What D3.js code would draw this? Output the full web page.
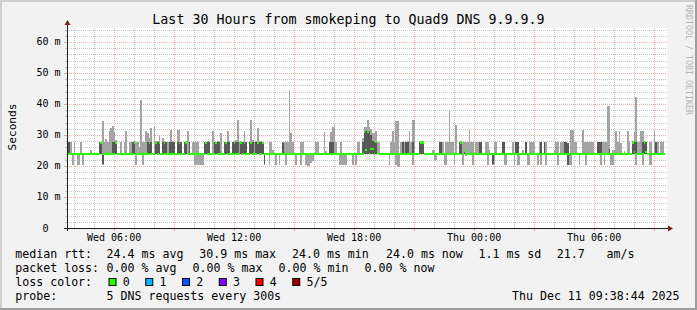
<!DOCTYPE html>
<html>
<head>
<meta charset="utf-8">
<script src="https://cdn.jsdelivr.net/npm/d3@7"></script>
<style>
html, body { margin: 0; padding: 0; background: #f2f2f2; }
svg { display: block; }
text { font-family: "DejaVu Sans Mono", monospace; fill: #000; }
</style>
</head>
<body>
<svg id="chart" width="697" height="310"></svg>
<script>
// ---- chart data ----
const title = "Last 30 Hours from smokeping to Quad9 DNS 9.9.9.9";
const endTime = new Date(2025, 11, 11, 9, 38, 44);
const spanHours = 30;
const stepSeconds = 300;
const lastStep = 358;          // last 5-minute step that has data
const baseRtt = 24.0;          // steady rtt (ms) for steps not listed below
const yMax = 64.5;
const yLabels = [0, 10, 20, 30, 40, 50, 60];

// [step, ping1, ping2, median, ping4, ping5] in ms (sorted pings of 5)
const pingRows = [
  [0, 24, 24, 24, 27.7, 27.7], [1, 24, 24, 24, 27.7, 27.7], [2, 24, 24, 24, 24, 27.7],
  [3, 20.4, 24, 24, 24, 24], [4, 24, 24, 24, 24, 27.7], [6, 20.4, 24, 24, 24, 24],
  [7, 20.4, 24, 24, 24, 24], [8, 24, 24, 24, 24, 27.7], [9, 20.4, 24, 24, 24, 24],
  [14, 24, 24, 24, 24, 25.3], [19, 24, 24, 24, 27.7, 27.7], [20, 24, 24, 27.5, 27.7, 27.7],
  [21, 20.3, 20.5, 24, 24, 34.4], [22, 24, 24, 24, 24, 27.7], [23, 24, 24, 24, 24, 28.8],
  [24, 24, 24, 24, 24, 27.7], [25, 24, 24, 24, 24, 31.2], [26, 24, 24, 24, 24, 32.3],
  [27, 24, 24, 24, 27.7, 33.0], [28, 24, 24, 24, 27.7, 31.0], [29, 24, 24, 27.5, 27.7, 28.5],
  [32, 24, 24, 24, 24, 27.7], [34, 24, 24, 24, 24, 27.7],
  [35, 24, 24, 24, 24, 31.2], [37, 24, 24, 24, 24, 27.7], [38, 24, 24, 24, 24, 27.7],
  [39, 24, 24, 24, 27.7, 27.7], [40, 24, 24, 27.5, 27.7, 28.0], [41, 20.3, 24, 24, 24, 27.7],
  [42, 24, 24, 24, 24, 27.7], [43, 24, 24, 24, 24, 26.0], [44, 24, 24, 24, 24, 41.3],
  [45, 20.3, 24, 24, 24, 27.7], [46, 24, 24, 24, 24, 27.7], [47, 24, 24, 24, 24, 31.2],
  [48, 24, 24, 24, 27.7, 30.5], [49, 24, 24, 27.5, 27.7, 29.0], [50, 24, 24, 24, 27.7, 32.3],
  [52, 24, 24, 24, 24, 33.0], [53, 24, 24, 27.5, 27.7, 28.0],
  [54, 24, 24, 24, 27.7, 28.0], [55, 24, 24, 27.5, 27.7, 30.0],
  [57, 24, 24, 24, 27.7, 29.0], [58, 24, 24, 27.5, 27.7, 28.0], [59, 24, 24, 24, 27.7, 27.7],
  [60, 24, 24, 24, 24, 27.7], [61, 24, 24, 24, 27.7, 27.7], [62, 24, 24, 24, 27.7, 31.5],
  [63, 24, 24, 24, 27.7, 28.0], [64, 24, 24, 24, 27.7, 27.7],
  [66, 24, 24, 24, 27.7, 31.5], [67, 24, 24, 27.5, 27.7, 31.5], [68, 24, 24, 24, 27.7, 27.7],
  [70, 24, 24, 24, 27.7, 27.7], [71, 24, 24, 27.5, 27.7, 28.0], [72, 24, 24, 24, 24, 31.2],
  [73, 24, 24, 24, 27.7, 27.7], [75, 24, 24, 24, 24, 27.7], [76, 20.4, 24, 24, 24, 27.7],
  [77, 20.2, 24, 24, 24, 27.7], [78, 20.2, 24, 24, 24, 27.7], [79, 20.2, 24, 24, 24, 24],
  [80, 20.2, 24, 24, 24, 24], [81, 20.2, 24, 24, 24, 24], [82, 24, 24, 24, 27.7, 27.7],
  [83, 24, 24, 27.5, 27.7, 27.7], [84, 24, 24, 24, 27.7, 28.0], [85, 24, 24, 24, 27.7, 27.7],
  [87, 24, 24, 24, 24, 31.2], [88, 24, 24, 24, 27.7, 27.7],
  [89, 24, 24, 27.5, 27.7, 27.7], [90, 24, 24, 24, 27.7, 28.0], [91, 24, 24, 24, 27.7, 27.7],
  [92, 24, 24, 24, 24, 30.6], [94, 24, 24, 24, 27.7, 27.7], [95, 24, 24, 27.5, 27.7, 27.7],
  [96, 24, 24, 24, 27.7, 31.2], [97, 24, 24, 24, 27.7, 28.0],
  [99, 24, 24, 24, 27.7, 27.7], [100, 24, 24, 27.5, 27.7, 28.0], [101, 24, 24, 24, 27.7, 28.5],
  [102, 24, 24, 24, 27.7, 34.8], [103, 24, 24, 24, 24, 27.7], [104, 24, 24, 27.5, 27.7, 28.0],
  [105, 24, 24, 24, 27.7, 27.7], [106, 24, 24, 27.5, 27.7, 31.2], [107, 24, 24, 24, 27.7, 27.7],
  [109, 24, 24, 24, 27.7, 27.7], [110, 24, 24, 27.5, 27.7, 34.8],
  [111, 24, 24, 24, 27.7, 28.5], [112, 24, 24, 24, 24, 27.7], [113, 24, 24, 24, 27.7, 28.0],
  [114, 24, 24, 27.5, 27.7, 32.3], [115, 24, 24, 24, 27.7, 27.7], [116, 24, 24, 24, 27.7, 28.0],
  [117, 24, 24, 27.5, 27.7, 27.7], [118, 20.2, 20.5, 24, 24, 24],
  [121, 20.3, 24, 24, 24, 27.7], [122, 24, 24, 24, 24, 27.7], [123, 24, 24, 24, 24, 25.3],
  [125, 20.3, 24, 24, 24, 24], [127, 20.3, 24, 24, 24, 24], [129, 24, 24, 24, 27.4, 27.7],
  [130, 24, 24, 24, 24, 27.7], [131, 20.3, 24, 24, 24, 27.7], [132, 24, 24, 24, 24, 27.7],
  [133, 24, 24, 24, 24, 44.6], [134, 24, 24, 24, 24, 30.6], [135, 24, 24, 24, 24, 27.7],
  [137, 20.3, 24, 24, 24, 24], [140, 20.3, 24, 24, 24, 27.7], [141, 24, 24, 24, 24, 27.7],
  [143, 20.3, 24, 24, 24, 24], [144, 20.0, 24, 24, 24, 24], [145, 20.0, 24, 24, 24, 24],
  [146, 21.0, 24, 24, 24, 24], [147, 21.5, 24, 24, 24, 24], [149, 24, 24, 24, 24, 27.7],
  [150, 24, 24, 24, 24, 27.7], [154, 24, 24, 24, 24, 31.0], [155, 24, 24, 24, 24, 24.8],
  [157, 24, 24, 24, 27.7, 27.7], [158, 24, 24, 24, 27.7, 31.0], [159, 24, 24, 24, 27.7, 32.5],
  [160, 24, 24, 24, 24, 33.3], [161, 24, 24, 24, 24, 27.7], [163, 20.3, 24, 24, 24, 24],
  [164, 20.3, 24, 24, 24, 27.7], [165, 20.2, 24, 24, 24, 24], [166, 20.2, 24, 24, 24, 24],
  [167, 20.3, 24, 24, 24, 24], [171, 20.3, 24, 24, 24, 24], [173, 20.3, 24, 24, 24, 24],
  [174, 24, 24, 24, 24, 27.7], [175, 24, 24, 24, 24, 27.7],
  [177, 24, 24, 24, 27.7, 29.0], [178, 24, 24, 31.0, 31.2, 32.7], [179, 24, 24, 25.2, 31.2, 32.7],
  [180, 24, 24, 31.0, 31.2, 34.8], [181, 24, 24, 24, 31.2, 32.7], [182, 24, 24, 25.5, 30.0, 32.0],
  [183, 24, 24, 25.5, 28.0, 30.6], [184, 24, 24, 24, 27.8, 30.6], [185, 24, 24, 27.8, 27.8, 31.2],
  [186, 24, 24, 24.3, 24.5, 27.7], [187, 24, 24, 24, 24, 27.7],
  [193, 20.3, 24, 24, 24, 24], [194, 24, 24, 24, 24, 27.7], [195, 24, 24, 24, 24, 31.2],
  [196, 24, 24, 24, 24, 27.7], [197, 20.3, 24, 24, 24, 34.6], [198, 19.6, 24, 24, 24, 34.6],
  [199, 19.6, 24, 24, 24, 24], [200, 24, 24, 24, 24, 27.7], [201, 24, 24, 24, 27.7, 27.7],
  [202, 24, 24, 24, 24, 27.7], [203, 24, 24, 24, 27.7, 27.7], [204, 24, 24, 24, 27.7, 28.0],
  [205, 24, 24, 24, 24, 31.2], [206, 24, 24, 24, 24, 27.7], [207, 20.3, 24, 24, 27.7, 34.8],
  [208, 24, 24, 24, 24, 34.8], [211, 24, 24, 24, 27.7, 27.7], [212, 24, 24, 27.6, 27.7, 27.7],
  [213, 24, 24, 27.6, 27.7, 28.0], [219, 24, 24, 24, 24, 25.0], [220, 22.0, 24, 24, 24, 25.0],
  [221, 22.0, 24, 24, 24, 24], [223, 24, 24, 24, 27.7, 27.7], [224, 24, 24, 24, 27.7, 27.7],
  [225, 24, 24, 24, 24, 27.7], [226, 20.3, 24, 24, 24, 24], [227, 20.3, 24, 24, 24, 27.7],
  [228, 24, 24, 24, 24, 27.7], [229, 24, 24, 24, 24, 37.8], [230, 24, 24, 24, 24, 27.7],
  [231, 24, 24, 24, 24, 27.7], [232, 20.3, 24, 24, 24, 24], [233, 24, 24, 24, 24, 33.3],
  [235, 24, 24, 24, 27.7, 27.7], [236, 24, 24, 27.6, 27.7, 27.7], [237, 20.3, 24, 24, 24, 27.7],
  [238, 24, 24, 25.0, 25.0, 27.7], [239, 23.3, 23.6, 24, 24, 27.7],
  [240, 24, 24, 24, 24, 27.7], [241, 24, 24, 24, 24, 31.5], [242, 24, 24, 24, 24, 27.7],
  [243, 20.3, 24, 24, 24, 27.7], [245, 24, 24, 24, 24, 27.7], [246, 24, 24, 24, 24, 27.7],
  [247, 24, 24, 24, 27.7, 27.7], [248, 24, 24, 24, 27.7, 27.7], [251, 24, 24, 24, 24, 27.7],
  [252, 20.3, 24, 24, 24, 27.7], [253, 24, 24, 24, 24, 25.0], [255, 20.3, 20.5, 24, 24, 24],
  [256, 20.3, 24, 24, 24, 27.7], [257, 24, 24, 24, 24, 27.7], [261, 24, 24, 24, 27.7, 27.7],
  [262, 20.3, 24, 24, 27.7, 27.7], [263, 20.3, 24, 24, 24, 24], [267, 24, 24, 24, 24, 27.7],
  [268, 20.3, 24, 24, 24, 24], [269, 24, 24, 24, 27.7, 27.7], [270, 20.3, 24, 24, 27.7, 27.7],
  [271, 20.3, 24, 24, 24, 24], [273, 24, 24, 24, 24, 25.0], [275, 24, 24, 24, 27.7, 27.7],
  [276, 20.3, 24, 24, 24, 24], [277, 20.3, 24, 24, 24, 27.7], [278, 24, 24, 24, 24, 27.7],
  [279, 24, 24, 24, 24, 27.7], [280, 24, 24, 24, 24, 27.7], [282, 20.3, 24, 24, 24, 24],
  [283, 24, 24, 24, 24, 27.7], [284, 20.3, 24, 24, 27.7, 27.7], [286, 24, 24, 24, 27.7, 27.7],
  [287, 20.3, 24, 24, 24, 27.7], [292, 24, 24, 24, 24, 25.0], [293, 24, 24, 24, 24, 27.7],
  [294, 20.3, 24, 24, 24, 27.7], [296, 24, 24, 24, 24, 27.7], [297, 24, 24, 24, 24, 27.7],
  [298, 24, 24, 24, 27.7, 27.7], [299, 24, 24, 24, 27.7, 27.7], [300, 20.3, 20.3, 24, 27.4, 27.4],
  [301, 20.3, 24, 24, 24, 24], [302, 20.3, 24, 24, 24, 31.5], [303, 24, 24, 24, 24, 31.5],
  [304, 24, 24, 24, 24, 27.7], [305, 24, 24, 24, 24, 27.7], [307, 20.3, 24, 24, 24, 24],
  [309, 24, 24, 24, 24, 31.5], [310, 24, 24, 24, 24, 27.7], [311, 20.3, 24, 24, 24, 27.7],
  [312, 24, 24, 24, 24, 27.7], [313, 24, 24, 24, 24, 27.7], [314, 24, 24, 24, 24, 27.7],
  [315, 24, 24, 24, 24, 27.7], [318, 24, 24, 24, 27.7, 27.7], [319, 24, 24, 24, 27.7, 27.7],
  [320, 20.3, 24, 24, 27.7, 27.7], [321, 24, 24, 24, 24, 27.7], [322, 20.3, 24, 24, 24, 27.7],
  [323, 24, 24, 24, 24, 27.7], [324, 24, 24, 24, 24, 39.2], [325, 24, 24, 24, 25.5, 39.2],
  [326, 20.3, 24, 24, 24, 24], [327, 20.3, 24, 24, 24, 25.0], [328, 24, 24, 24, 24, 25.0],
  [329, 24, 24, 24, 24, 31.2], [330, 24, 24, 24, 24, 27.7], [331, 24, 24, 24, 24, 31.2],
  [332, 24, 24, 24, 24, 27.5], [334, 24, 24, 24, 24, 24.8], [336, 24, 24, 24, 24, 31.2],
  [337, 24, 24, 24, 24, 27.7], [339, 24, 24, 27.6, 27.7, 27.7], [340, 24, 24, 24.6, 27.7, 31.0],
  [341, 20.3, 24, 24, 27.7, 42.3], [342, 24, 24, 24, 24, 27.7], [343, 24, 24, 24, 24, 27.7],
  [344, 24, 24, 24, 24, 31.2], [345, 20.3, 24, 24, 27.7, 31.2], [346, 24, 24, 27.6, 27.7, 27.7],
  [347, 24, 24, 24.6, 27.7, 27.7], [349, 20.3, 24, 24, 24, 27.7], [350, 20.3, 24, 24, 24, 27.7],
  [352, 24, 24, 24, 24, 31.2], [353, 24, 24, 24, 27.7, 27.7], [354, 24, 24, 24, 24, 27.7],
  [356, 24, 24, 24, 24, 27.7], [357, 24, 24, 24, 24, 27.7]
];

// legend values
const rttStats = { avg: 24.4, max: 30.9, min: 24.0, now: 24.0, sd: 1.1, amps: 21.7 };
const lossStats = { avg: 0.00, max: 0.00, min: 0.00, now: 0.00 };
const lossLabels = ["0", "1", "2", "3", "4", "5/5"];
const lossColors = ["#26ff00", "#00b8ff", "#0059ff", "#7e00ff", "#ff0000", "#a10000"];
const probeText = "5 DNS requests every 300s";
const stampText = "Thu Dec 11 09:38:44 2025";

// ---- drawing ----
const W = 697, H = 310;
const x0 = 67, x1 = 667, yTop = 28, yBot = 228;
const svg = d3.select("#chart");

const startTime = new Date(endTime.getTime() - spanHours * 3600e3);
const x = d3.scaleTime().domain([startTime, endTime]).range([x0, x1]);
const y = d3.scaleLinear().domain([0, yMax]).range([yBot, yTop]);
const stepTime = i => new Date(startTime.getTime() + i * stepSeconds * 1000);

// background + 3d shade
svg.append("rect").attr("width", W).attr("height", H).attr("fill", "#f2f2f2");
svg.append("rect").attr("x", 0).attr("y", 0).attr("width", W).attr("height", 2).attr("fill", "#cfcfcf");
svg.append("rect").attr("x", 0).attr("y", 0).attr("width", 2).attr("height", H).attr("fill", "#cfcfcf");
svg.append("rect").attr("x", 0).attr("y", H - 2).attr("width", W).attr("height", 2).attr("fill", "#9e9e9e");
svg.append("rect").attr("x", W - 2).attr("y", 0).attr("width", 2).attr("height", H).attr("fill", "#9e9e9e");

// canvas
svg.append("rect").attr("x", x0).attr("y", yTop).attr("width", x1 - x0).attr("height", yBot - yTop).attr("fill", "#fff");

const minorCol = "rgba(143,143,143,0.5)";
const majorCol = "rgba(222,80,74,0.45)";
const grid = svg.append("g").attr("shape-rendering", "crispEdges");

// horizontal grid: minor every 2 ms, major every 10 ms
d3.range(2, yMax, 2).forEach(v => {
  const major = v % 10 === 0;
  const yy = Math.round(y(v)) + 0.5;
  grid.append("line").attr("x1", x0).attr("x2", x1).attr("y1", yy).attr("y2", yy)
    .attr("stroke", major ? majorCol : minorCol).attr("stroke-dasharray", "1,1");
  grid.append("line").attr("x1", x0 - (major ? 3 : 2)).attr("x2", x0).attr("y1", yy).attr("y2", yy)
    .attr("stroke", major ? majorCol : minorCol);
});

// vertical grid: minor every hour, major every 3 hours
const hours = d3.timeHour.range(startTime, endTime);
hours.forEach(t => {
  const major = t.getHours() % 3 === 0;
  const xx = Math.round(x(t)) + 0.5;
  grid.append("line").attr("x1", xx).attr("x2", xx).attr("y1", yTop).attr("y2", yBot)
    .attr("stroke", major ? majorCol : minorCol).attr("stroke-dasharray", "1,1");
  grid.append("line").attr("x1", xx).attr("x2", xx).attr("y1", yBot).attr("y2", yBot + (major ? 3 : 2))
    .attr("stroke", major ? majorCol : minorCol);
});

// smoke + median
const rowByStep = new Map(pingRows.map(r => [r[0], r]));
const steps = d3.range(lastStep + 1).map(i => rowByStep.get(i) || [i, baseRtt, baseRtt, baseRtt, baseRtt, baseRtt]);

const smoke = svg.append("g").attr("shape-rendering", "crispEdges");
steps.forEach(r => {
  const xa = x(stepTime(r[0])), xb = x(stepTime(r[0] + 1));
  const band = (lo, hi, col) => {
    if (hi <= lo) return;
    smoke.append("rect").attr("x", xa).attr("width", xb - xa)
      .attr("y", y(hi)).attr("height", y(lo) - y(hi)).attr("fill", col);
  };
  band(r[1], r[2], "#a4a4a4");
  band(r[4], r[5], "#a4a4a4");
  band(r[2], r[4], "#585858");
});

const med = svg.append("g").attr("shape-rendering", "crispEdges");
steps.forEach(r => {
  const xa = x(stepTime(r[0])), xb = x(stepTime(r[0] + 1));
  med.append("rect").attr("x", xa).attr("width", xb - xa)
    .attr("y", y(r[3]) - 1).attr("height", 2.4).attr("fill", lossColors[0]);
});

// axes with arrows
const axisCol = "#1f1f1f", arrowCol = "#801f1f";
svg.append("line").attr("x1", x0 + 0.5).attr("x2", x0 + 0.5).attr("y1", yBot + 3).attr("y2", yTop - 4)
  .attr("stroke", axisCol).attr("shape-rendering", "crispEdges");
svg.append("line").attr("x1", x0 - 3).attr("x2", x1 + 2).attr("y1", yBot + 0.5).attr("y2", yBot + 0.5)
  .attr("stroke", axisCol).attr("shape-rendering", "crispEdges");
svg.append("path").attr("d", `M${x0 - 2.5},${yTop - 3}L${x0 + 3.5},${yTop - 3}L${x0 + 0.5},${yTop - 8}Z`).attr("fill", arrowCol);
svg.append("path").attr("d", `M${x1 + 1},${yBot - 2.5}L${x1 + 1},${yBot + 3.5}L${x1 + 6},${yBot + 0.5}Z`).attr("fill", arrowCol);

// y labels
svg.append("g").selectAll("text").data(yLabels).join("text")
  .attr("x", 60.5).attr("y", d => y(d) + 3.5)
  .attr("text-anchor", "end").attr("font-size", 10)
  .attr("xml:space", "preserve")
  .text(d => d === 0 ? "0  " : d + " m");

// x labels
const fmt = d3.timeFormat("%a %H:%M");
svg.append("g").selectAll("text").data(hours.filter(t => t.getHours() % 6 === 0)).join("text")
  .attr("x", d => x(d)).attr("y", 241)
  .attr("text-anchor", "middle").attr("font-size", 10)
  .text(d => fmt(d));

// title, unit label, watermark
svg.append("text").attr("x", 348.5).attr("y", 23.5).attr("text-anchor", "middle")
  .attr("font-size", 13.3).text(title);
svg.append("text").attr("transform", "translate(15.5,127) rotate(-90)")
  .attr("text-anchor", "middle").attr("font-size", 11.2).text("Seconds");
svg.append("text").attr("transform", "translate(685.5,5) rotate(90)")
  .attr("font-size", 8.3).style("fill", "#b4b4b4").text("RRDTOOL / TOBI OETIKER");

// legend
const lf = 11.6;
const f1 = d3.format(".1f"), f2 = d3.format(".2f");
const legendRows = [
  { y: 258.3, items: [
    [15.3, "median rtt:"], [106.6, f1(rttStats.avg) + " ms avg"], [199.3, f1(rttStats.max) + " ms max"],
    [292, f1(rttStats.min) + " ms min"], [386, f1(rttStats.now) + " ms now"], [478.5, f1(rttStats.sd) + " ms sd"],
    [556.8, f1(rttStats.amps)], [606.6, "am/s"]] },
  { y: 272.3, items: [
    [15.3, "packet loss:"], [106.6, f2(lossStats.avg) + " % avg"], [192.6, f2(lossStats.max) + " % max"],
    [278.6, f2(lossStats.min) + " % min"], [364.6, f2(lossStats.now) + " % now"]] },
  { y: 286.3, items: [[15.3, "loss color:"]] },
  { y: 300.3, items: [[15.3, "probe:"], [106.6, probeText], [512, stampText]] }
];
legendRows.forEach(row => {
  row.items.forEach(([lx, t]) => {
    svg.append("text").attr("x", lx).attr("y", row.y).attr("font-size", lf).text(t);
  });
});

// loss colour boxes
lossLabels.forEach((lab, i) => {
  const bx = 108.5 + i * 36.75;
  svg.append("rect").attr("x", bx + 0.5).attr("y", 278.5).attr("width", 7).attr("height", 7)
    .attr("fill", lossColors[i]).attr("stroke", "#000").attr("stroke-width", 1);
  svg.append("text").attr("x", bx + 14.2).attr("y", 286.3).attr("font-size", lf).text(lab);
});
</script>
</body>
</html>
